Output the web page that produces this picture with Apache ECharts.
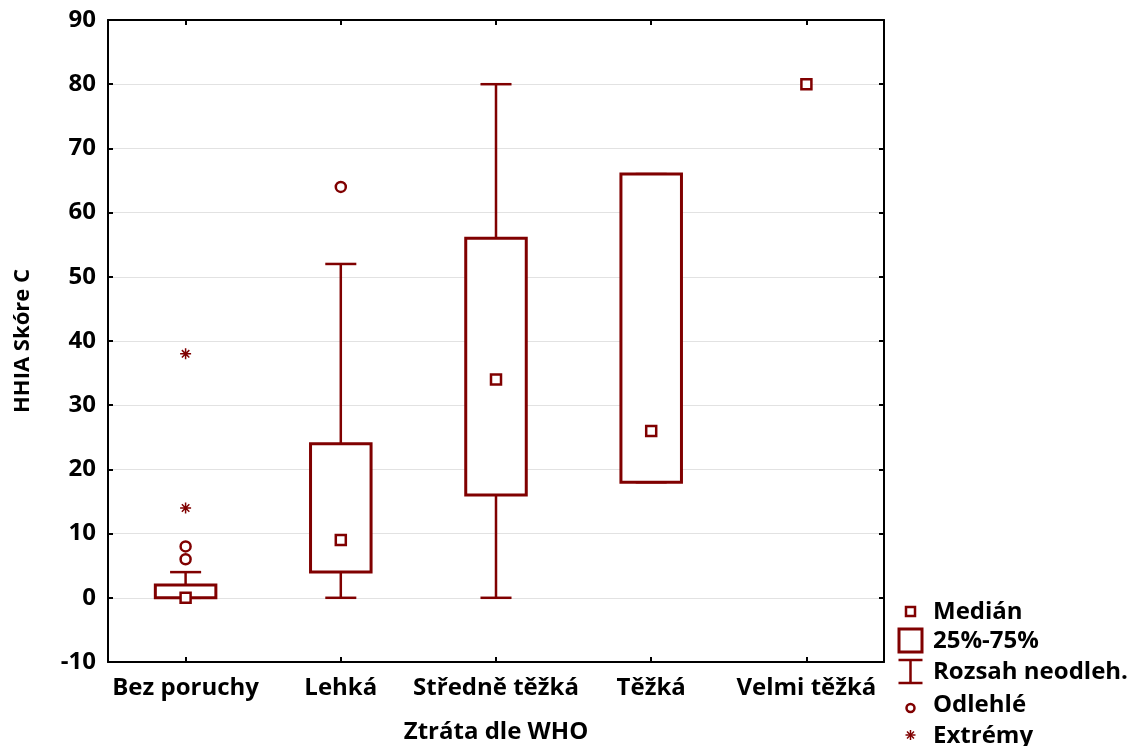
<!DOCTYPE html>
<html>
<head>
<meta charset="utf-8">
<script src="https://cdn.jsdelivr.net/npm/echarts@6/dist/echarts.min.js"></script>
<style>
  html, body { margin: 0; padding: 0; background: #fff; }
  #chart { width: 1133px; height: 746px; }
</style>
</head>
<body>
<div id="chart"></div>
<script>
// Hearing loss groups (WHO) and HHIA score C summary statistics
const categories = ['Bez poruchy', 'Lehká', 'Středně těžká', 'Těžká', 'Velmi těžká'];
const whiskerLow  = [0, 0, 0, 18, null];
const q1          = [0, 4, 16, 18, null];
const median      = [0, 9, 34, 26, 80];
const q3          = [2, 24, 56, 66, null];
const whiskerHigh = [4, 52, 80, 66, null];
// [category index, value]
const outliers = [[0, 6], [0, 8], [1, 64]];
const extremes = [[0, 14], [0, 38]];
const yTicks = { min: -10, max: 90, step: 10 };

const RED = '#800000';
const FONT = '"Open Sans", "DejaVu Sans", sans-serif';
const ASTERISK = 'path://M5 0L5 10M0 5L10 5M1.6 1.6L8.4 8.4M8.4 1.6L1.6 8.4';

const boxData = categories.map((c, i) =>
  [i, whiskerLow[i], q1[i], median[i], q3[i], whiskerHigh[i]]
).filter(d => d[2] !== null);

function renderBox(params, api) {
  const i = api.value(0);
  const band = api.size([1, 0])[0];
  const boxW = band * 0.39;
  const capW = band * 0.2;
  const pLow = api.coord([i, api.value(1)]);
  const pQ1 = api.coord([i, api.value(2)]);
  const pQ3 = api.coord([i, api.value(4)]);
  const pHigh = api.coord([i, api.value(5)]);
  const x = pQ1[0];
  const wStyle = { stroke: RED, lineWidth: 2.5, fill: null };
  return {
    type: 'group',
    children: [
      { type: 'line', shape: { x1: x, y1: pLow[1], x2: x, y2: pHigh[1] }, style: wStyle },
      { type: 'line', shape: { x1: x - capW / 2, y1: pLow[1], x2: x + capW / 2, y2: pLow[1] }, style: wStyle },
      { type: 'line', shape: { x1: x - capW / 2, y1: pHigh[1], x2: x + capW / 2, y2: pHigh[1] }, style: wStyle },
      { type: 'rect', shape: { x: x - boxW / 2, y: pQ3[1], width: boxW, height: pQ1[1] - pQ3[1] },
        style: { fill: '#fff', stroke: RED, lineWidth: 3 } }
    ]
  };
}

const axisText = { color: '#000', fontFamily: FONT, fontWeight: 'bold', fontSize: 24 };
const frameLine = { show: true, onZero: false, lineStyle: { color: '#000', width: 2 } };
const inTick = { show: true, inside: true, length: 5, lineStyle: { color: '#000', width: 2 } };

const chart = echarts.init(document.getElementById('chart'), null, { renderer: 'canvas' });

// Legend rows, laid out as a vertical list next to the plot
const legendX = 910.5, legendTextX = 933;
function starIcon(cx, cy, r) {
  const d = r * 0.7;
  const st = { stroke: RED, lineWidth: 1.5, fill: null };
  return {
    type: 'group',
    children: [
      { type: 'line', shape: { x1: cx, y1: cy - r, x2: cx, y2: cy + r }, style: st },
      { type: 'line', shape: { x1: cx - r, y1: cy, x2: cx + r, y2: cy }, style: st },
      { type: 'line', shape: { x1: cx - d, y1: cy - d, x2: cx + d, y2: cy + d }, style: st },
      { type: 'line', shape: { x1: cx + d, y1: cy - d, x2: cx - d, y2: cy + d }, style: st }
    ]
  };
}
const legendRows = [
  { y: 612, text: 'Medián', icon: { type: 'rect', shape: { x: legendX - 4.5, y: 607, width: 9, height: 9 }, style: { fill: '#fff', stroke: RED, lineWidth: 2.5 } } },
  { y: 641, text: '25%-75%', icon: { type: 'rect', shape: { x: legendX - 11.5, y: 629, width: 23, height: 23 }, style: { fill: '#fff', stroke: RED, lineWidth: 3 } } },
  { y: 672, text: 'Rozsah neodleh.', icon: { type: 'polyline', shape: { points: [[legendX - 12, 660], [legendX + 12, 660], [legendX, 660], [legendX, 683], [legendX - 12, 683], [legendX + 12, 683]] }, style: { fill: null, stroke: RED, lineWidth: 2.5 } } },
  { y: 705, text: 'Odlehlé', icon: { type: 'circle', shape: { cx: legendX, cy: 708, r: 4 }, style: { fill: '#fff', stroke: RED, lineWidth: 2.5 } } },
  { y: 736, text: 'Extrémy', icon: starIcon(legendX, 735, 5) }
];
const legendGraphics = [];
legendRows.forEach(r => {
  legendGraphics.push(r.icon);
  legendGraphics.push({
    type: 'text', x: legendTextX, y: r.y,
    style: { text: r.text, fill: '#000', font: 'bold 24px ' + FONT, textVerticalAlign: 'middle', verticalAlign: 'middle' }
  });
});

chart.setOption({
  animation: false,
  backgroundColor: '#fff',
  grid: { left: 108, right: 249, top: 20, bottom: 84, containLabel: false, outerBoundsMode: 'none' },
  xAxis: [
    {
      type: 'category', data: categories, position: 'bottom',
      boundaryGap: true,
      axisLine: frameLine,
      axisTick: Object.assign({ alignWithLabel: true }, inTick),
      axisLabel: Object.assign({ margin: 14, interval: 0 }, axisText),
      name: 'Ztráta dle WHO', nameLocation: 'middle', nameGap: 58,
      nameTextStyle: Object.assign({}, axisText),
      splitLine: { show: false }
    },
    {
      type: 'category', data: categories, position: 'top',
      boundaryGap: true,
      axisLine: frameLine,
      axisTick: Object.assign({ alignWithLabel: true }, inTick),
      axisLabel: { show: false },
      splitLine: { show: false }
    }
  ],
  yAxis: [
    {
      type: 'value', min: yTicks.min, max: yTicks.max, interval: yTicks.step,
      position: 'left',
      axisLine: frameLine, axisTick: inTick,
      axisLabel: Object.assign({ margin: 12 }, axisText),
      splitLine: { show: true, lineStyle: { color: '#e2e2e2', width: 1 } },
      name: 'HHIA Skóre C', nameLocation: 'middle', nameGap: 74, nameRotate: 90,
      nameTextStyle: Object.assign({}, axisText, { fontSize: 22 })
    },
    {
      type: 'value', min: yTicks.min, max: yTicks.max, interval: yTicks.step,
      position: 'right',
      axisLine: frameLine, axisTick: inTick,
      axisLabel: { show: false },
      splitLine: { show: false }
    }
  ],
  series: [
    {
      name: '25%-75%', type: 'custom', xAxisIndex: 0, yAxisIndex: 0,
      renderItem: renderBox, data: boxData, z: 2,
      encode: { x: 0, y: [1, 2, 3, 4, 5] }
    },
    {
      name: 'Medián', type: 'scatter', xAxisIndex: 0, yAxisIndex: 0,
      data: median.map((v, i) => [i, v]), symbol: 'rect', symbolSize: 10, z: 4,
      itemStyle: { color: '#fff', borderColor: RED, borderWidth: 2.5, opacity: 1 }
    },
    {
      name: 'Odlehlé', type: 'scatter', xAxisIndex: 0, yAxisIndex: 0,
      data: outliers, symbol: 'circle', symbolSize: 10, z: 4,
      itemStyle: { color: '#fff', borderColor: RED, borderWidth: 2.5, opacity: 1 }
    },
    {
      name: 'Extrémy', type: 'scatter', xAxisIndex: 0, yAxisIndex: 0,
      data: extremes, symbol: ASTERISK, symbolSize: 11, z: 4,
      itemStyle: { color: 'none', borderColor: RED, borderWidth: 1.5, opacity: 1 }
    }
  ],
  graphic: legendGraphics
});
</script>
</body>
</html>
